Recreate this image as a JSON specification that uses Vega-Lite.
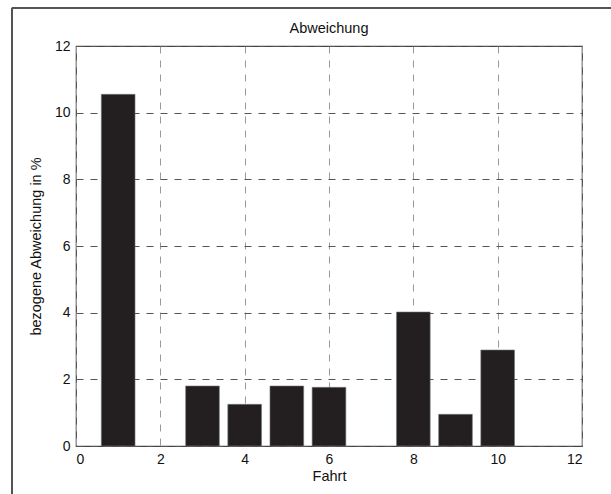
{
  "$schema": "https://vega.github.io/schema/vega-lite/v6.json",
  "autosize": "none",
  "width": 506,
  "height": 400,
  "padding": {"left": 76, "top": 46, "right": 29, "bottom": 48},
  "background": "white",
  "config": {
    "font": "Liberation Sans",
    "view": {"stroke": "#444", "strokeWidth": 1.2},
    "axis": {
      "domain": false,
      "ticks": false,
      "grid": true,
      "gridDash": [7, 7],
      "gridWidth": 1,
      "labelFont": "Liberation Sans",
      "labelFontSize": 14,
      "labelColor": "#111",
      "titleFont": "Liberation Sans",
      "titleFontSize": 14.5,
      "titleFontWeight": "normal",
      "titleColor": "#111"
    }
  },
  "title": {
    "text": "Abweichung",
    "frame": "group",
    "font": "Liberation Sans",
    "fontSize": 14.5,
    "fontWeight": "normal",
    "color": "#111",
    "offset": -29
  },
  "data": {
    "values": [
      {"Fahrt": 1, "Abweichung": 10.55},
      {"Fahrt": 3, "Abweichung": 1.8},
      {"Fahrt": 4, "Abweichung": 1.25},
      {"Fahrt": 5, "Abweichung": 1.8},
      {"Fahrt": 6, "Abweichung": 1.76},
      {"Fahrt": 8, "Abweichung": 4.02},
      {"Fahrt": 9, "Abweichung": 0.95},
      {"Fahrt": 10, "Abweichung": 2.88}
    ]
  },
  "layer": [
    {
      "mark": {"type": "bar", "width": 33.7, "fill": "#231f20", "stroke": "#777", "strokeWidth": 0.6},
      "encoding": {
        "x": {
          "field": "Fahrt",
          "type": "quantitative",
          "scale": {"domain": [0, 12], "nice": false, "padding": 0},
          "axis": {"values": [0, 2, 4, 6, 8, 10, 12], "title": "Fahrt", "labelPadding": 6, "titlePadding": 3, "gridColor": "#999"}
        },
        "y": {
          "field": "Abweichung",
          "type": "quantitative",
          "scale": {"domain": [0, 12], "nice": false},
          "axis": {"values": [0, 2, 4, 6, 8, 10, 12], "title": "bezogene Abweichung in %", "labelPadding": 6, "titlePadding": 11, "gridColor": "#555"}
        }
      }
    },
    {
      "mark": {"type": "rule", "color": "#555", "strokeWidth": 1.5, "clip": false},
      "encoding": {
        "x": {"datum": -1.52, "type": "quantitative"},
        "y": {"datum": 13.13, "type": "quantitative"},
        "y2": {"datum": -1.5}
      }
    },
    {
      "mark": {"type": "rule", "color": "#555", "strokeWidth": 1.5, "clip": false},
      "encoding": {
        "y": {"datum": 13.13, "type": "quantitative"},
        "x": {"datum": -1.52, "type": "quantitative"},
        "x2": {"datum": 12.7}
      }
    }
  ]
}
